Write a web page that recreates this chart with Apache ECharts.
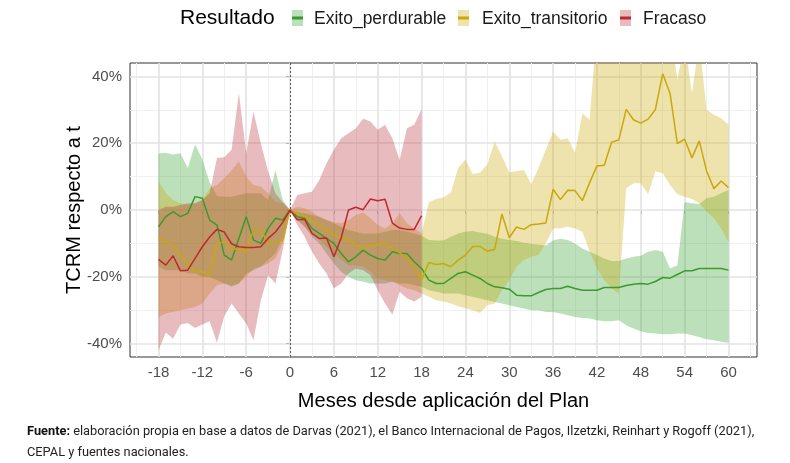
<!DOCTYPE html>
<html><head><meta charset="utf-8">
<script src="https://cdn.jsdelivr.net/npm/echarts@6/dist/echarts.min.js"></script>
<style>html,body{margin:0;padding:0;background:#fff}#c{width:790px;height:463px}</style>
</head><body><div id="c"></div>
<script>
const months = [-18,-17,-16,-15,-14,-13,-12,-11,-10,-9,-8,-7,-6,-5,-4,-3,-2,-1,0,1,2,3,4,5,6,7,8,9,10,11,12,13,14,15,16,17,18,19,20,21,22,23,24,25,26,27,28,29,30,31,32,33,34,35,36,37,38,39,40,41,42,43,44,45,46,47,48,49,50,51,52,53,54,55,56,57,58,59,60];
const monthsFracaso = [-18,-17,-16,-15,-14,-13,-12,-11,-10,-9,-8,-7,-6,-5,-4,-3,-2,-1,0,1,2,3,4,5,6,7,8,9,10,11,12,13,14,15,16,17,18];

const perdurableMid = [-5,-2,-0.5,-2,-1,4,3.5,-3,-4.5,-13.5,-15,-8.5,-2,-9,-10,-5.5,-2.5,-3,0,
 -2,-2.5,-5.5,-7,-8.5,-10,-13,-15.5,-14,-12,-13.5,-14.5,-15,-12.5,-13,-13,-15.5,-17.5,-21,-22,-22,-20.5,-19,-18.5,-19.5,-20.5,-22,-23,-23.3,-23.7,-25.5,-25.7,-25.7,-24.7,-23.8,-23.5,-23.5,-22.8,-23.5,-24,-24,-24,-23.2,-23.2,-23.2,-22.6,-22.2,-22,-22.2,-21.4,-20.2,-20.4,-19.3,-18.2,-18.2,-17.5,-17.5,-17.5,-17.5,-18];
const perdurableHi = [16.9,17.1,16.6,17,12.6,19.6,15.1,8.2,4.2,4,4,4.5,5,5,5,3,12,3,0,
 -0.5,-1,-1.5,-2,-3,-4,-5,-6,-6.5,-7,-7,-7,-6.5,-6,-6,-6.5,-7,-7.6,-9,-9.1,-9.1,-8,-7,-6.5,-6.3,-6.7,-7.1,-8,-8.6,-9,-9.3,-9.8,-10.1,-10.4,-10.6,-9.1,-8.6,-9,-10,-11.5,-12.5,-13.5,-14.5,-15.3,-15.3,-14.5,-14,-13.7,-12.5,-12,-12.5,-17.5,-16.5,2.3,2,1.8,3.5,4,5,6];
const perdurableLo = [-17,-18,-18,-18,-19,-19,-20,-20,-21,-22,-23,-22,-19,-18,-17,-15,-13,-8,0,
 -3,-5,-8,-10,-13,-16,-18.5,-20,-21,-21.5,-22,-22,-22,-21.5,-22,-22,-22.5,-23,-24,-24.5,-25,-25,-25,-25.5,-26,-26.5,-27,-27.5,-28,-28.5,-29,-29.5,-30,-30,-30.5,-30.5,-31,-31.5,-32,-32.3,-32.5,-33,-33.3,-33.3,-33,-34.5,-35.5,-36.3,-36.8,-37,-37.2,-37.2,-37,-37,-37.5,-38,-38.7,-39,-39.4,-39.7];

const transitorioMid = [-8.3,-9.6,-10.5,-13.5,-16,-18.5,-18.5,-19.5,-10,-9.6,-11.8,-11.6,-12.5,-6,-6,-10,-10,-9,0,
 -1.2,-1.7,-3.3,-4.5,-6,-7.6,-8.1,-9,-10.5,-11.6,-10.6,-10.3,-9.8,-11.4,-12.8,-14.5,-17,-20.9,-15.7,-16.3,-16,-17,-15,-13.5,-10.9,-10.9,-12.3,-11.8,-1.2,-8.3,-5.1,-5.8,-4.4,-4.2,-3.9,6.2,3.1,5.9,5.8,2.8,8.2,13.2,13.4,20.3,21,30.1,27,26,27.2,30.1,40.8,34.9,19.9,21.2,15.6,20.7,11.7,6.4,8.7,6.7];
const transitorioHi = [8.7,5,3,2,1.5,2,3,6.5,7.5,9.5,12,14.5,10,7.5,7,5,2.5,2,0,
 1,0.5,-0.5,-2,-3,-3.7,-4,-3,-1.5,-0.7,-2.5,-4.5,-5.5,-4,-1,-4,-5.5,-7,2.3,3.3,3.8,5.2,12.6,15.1,10.7,11.2,13.6,20.5,16.1,11.2,11.7,12,7.7,12.6,18,23.5,21,21.5,17.1,28.9,27,55,55,55,55,55,55,55,55,55,55,55,39,50,35,50,30,28.5,27.5,25.5];
const transitorioLo = [-32,-31,-30.5,-30,-29.5,-29,-28,-25,-22.5,-22,-22.5,-22,-20,-17.5,-17,-16,-14.5,-10,0,
 -3,-5,-7,-9,-11,-13,-15,-16.5,-16.5,-17,-18.5,-20.5,-21,-21.5,-22.5,-23.5,-24,-25,-26,-27,-27.4,-28,-28.8,-29.4,-30,-30.8,-28.5,-28,-24,-21,-17,-15,-14,-13.5,-10,-5.5,-5.5,-5,-5.5,-6.5,-12.5,-17.5,-21,-23.5,-25,6.5,8,8,4.7,11.6,11,7.5,4.7,4,3.3,2,-0.5,-2.5,-5.5,-9.6];

const fracasoMid = [-14.8,-16.5,-13.7,-18.2,-18,-14.5,-11,-8.1,-5.8,-6.6,-10.1,-11,-11.2,-11.2,-11,-8.5,-6.6,-3.7,0,
 -2.9,-2.8,-7,-8.5,-8.4,-14,-8.3,0,0.8,0.1,3.3,2.8,3.2,-3.9,-5.4,-5.8,-5.8,-1.7];
const fracasoHi = [0,1,1,1.5,2,2,3,5,15.6,15.8,18,35,17,29.4,20,11.6,5,2.3,0,
 4.5,5,5.5,9,14,18,21.5,23,24.5,27.3,26.5,24,25.5,21.5,15,24.5,25.5,30.2];
const fracasoLo = [-42,-36.7,-38.5,-34.3,-33.8,-35.3,-34.3,-33.3,-39.7,-31.8,-28,-31,-34,-39,-27,-19.5,-22,-12,0,
 -4.5,-8,-12.5,-16,-19,-23.4,-22,-19,-17.5,-18,-19.5,-24,-28,-31.3,-24.5,-26.4,-27.4,-26];

const xMajorTicks = [-18,-12,-6,0,6,12,18,24,30,36,42,48,54,60];
const xMinorTicks = [-21,-15,-9,-3,3,9,15,21,27,33,39,45,51,57,63];
const yMajorTicks = [-40,-20,0,20,40];
const yMinorTicks = [-30,-10,10,30];
const groupNames = ['Exito_perdurable','Exito_transitorio','Fracaso'];

const FILL = ['rgba(51,160,44,0.33)','rgba(201,164,0,0.32)','rgba(184,49,61,0.33)'];
const LINE = ['#3a9a30','#c9a80a','#c0282d'];

function pairs(xs, ys){ return xs.map((m,i)=>[m, ys[i]]); }

function band(key, xs, lo, hi, fill){
  return {
    type:'custom', name:key+'_band', coordinateSystem:'cartesian2d', silent:true, z:2, clip:true,
    data: xs.map((m,i)=>[m, lo[i], hi[i]]),
    encode:{x:0, y:[1,2]},
    renderItem:function(params, api){
      if (params.dataIndex !== 0) return null;
      const top = xs.map((m,i)=>api.coord([m, hi[i]]));
      const bot = xs.map((m,i)=>api.coord([m, lo[i]])).reverse();
      const cs = params.coordSys;
      return {
        type:'polygon', shape:{points: top.concat(bot)}, style:{fill:fill},
        clipPath:{type:'rect', shape:{x:cs.x, y:cs.y, width:cs.width, height:cs.height}}
      };
    }
  };
}
function mid(key, xs, ys, color){
  return {type:'line', name:key, data:pairs(xs,ys), symbol:'none', silent:true,
    lineStyle:{color:color, width:1.5}, z:3};
}

const gridSeries = {
  type:'line', name:'grid', data:[], silent:true, z:1,
  markLine:{
    silent:true, symbol:'none', z:1, animation:false,
    label:{show:false},
    data: [].concat(
      xMinorTicks.map(v=>({xAxis:v, lineStyle:{color:'#f0f0f0', width:1, type:'solid'}})),
      yMinorTicks.map(v=>({yAxis:v, lineStyle:{color:'#f0f0f0', width:1, type:'solid'}})),
      xMajorTicks.map(v=>({xAxis:v, lineStyle:{color:'#e3e3e3', width:1.6, type:'solid'}})),
      yMajorTicks.map(v=>({yAxis:v, lineStyle:{color:'#e3e3e3', width:1.6, type:'solid'}}))
    )
  }
};
const zeroSeries = {
  type:'line', name:'zero', data:[], silent:true, z:4,
  markLine:{
    silent:true, symbol:'none', z:4, animation:false, label:{show:false},
    data:[{xAxis:0, lineStyle:{color:'#555', width:1, type:[2,2]}}]
  }
};

const series = [
  gridSeries,
  band('perdurable', months, perdurableLo, perdurableHi, FILL[0]),
  band('transitorio', months, transitorioLo, transitorioHi, FILL[1]),
  band('fracaso', monthsFracaso, fracasoLo, fracasoHi, FILL[2]),
  mid(groupNames[0], months, perdurableMid, LINE[0]),
  mid(groupNames[1], months, transitorioMid, LINE[1]),
  mid(groupNames[2], monthsFracaso, fracasoMid, LINE[2]),
  zeroSeries
];

const FONT = 'Liberation Sans';
function legendKey(x, i){
  return [
    {type:'rect', left:x, top:10, shape:{width:11, height:16}, style:{fill:FILL[i]}, silent:true},
    {type:'rect', left:x, top:16.5, shape:{width:11, height:3}, style:{fill:LINE[i]}, silent:true}
  ];
}

const chart = echarts.init(document.getElementById('c'), null, {renderer:'canvas'});
chart.setOption({
  animation:false,
  backgroundColor:'#fff',
  grid:{left:130, right:33, top:63, bottom:106, show:true, borderColor:'#333', borderWidth:1, backgroundColor:'transparent'},
  xAxis:{
    type:'value', min:-21.9, max:63.9,
    splitLine:{show:false}, axisLine:{show:false},
    axisTick:{show:true, customValues:xMajorTicks, length:4, lineStyle:{color:'#333'}},
    axisLabel:{customValues:xMajorTicks, color:'#4d4d4d', fontSize:15, margin:8, fontFamily:FONT},
    name:'Meses desde aplicación del Plan', nameLocation:'middle', nameGap:34,
    nameTextStyle:{fontSize:20, color:'#000', fontFamily:FONT}
  },
  yAxis:{
    type:'value', min:-44, max:44,
    splitLine:{show:false}, axisLine:{show:false},
    axisTick:{show:true, customValues:yMajorTicks, length:4, lineStyle:{color:'#333'}},
    axisLabel:{customValues:yMajorTicks, color:'#4d4d4d', fontSize:15, margin:8, fontFamily:FONT,
      formatter:v=>v+'%'},
    name:'TCRM respecto a t', nameLocation:'middle', nameGap:46, nameMoveOverlap:false,
    nameTextStyle:{fontSize:20, color:'#000', fontFamily:FONT}
  },
  series:series,
  graphic:[
    {type:'text', left:180, top:8, style:{text:'Resultado', font:'21px "Liberation Sans"', fill:'#000'}},
    ...legendKey(292,0),
    {type:'text', left:314, top:10, style:{text:groupNames[0], font:'17.5px "Liberation Sans"', fill:'#1a1a1a'}},
    ...legendKey(458,1),
    {type:'text', left:482, top:10, style:{text:groupNames[1], font:'17.5px "Liberation Sans"', fill:'#1a1a1a'}},
    ...legendKey(620,2),
    {type:'text', left:643, top:10, style:{text:groupNames[2], font:'17.5px "Liberation Sans"', fill:'#1a1a1a'}},
    {type:'text', left:27, top:421, style:{
      text:'{b|Fuente:} elaboración propia en base a datos de Darvas (2021), el Banco Internacional de Pagos, Ilzetzki, Reinhart y Rogoff (2021),\nCEPAL y fuentes nacionales.',
      font:'12.8px Roboto', fill:'#222', lineHeight:21,
      rich:{b:{fontWeight:'bold', fontSize:12.8, fontFamily:'Roboto', fill:'#111', lineHeight:21}}
    }}
  ]
});
</script></body></html>
